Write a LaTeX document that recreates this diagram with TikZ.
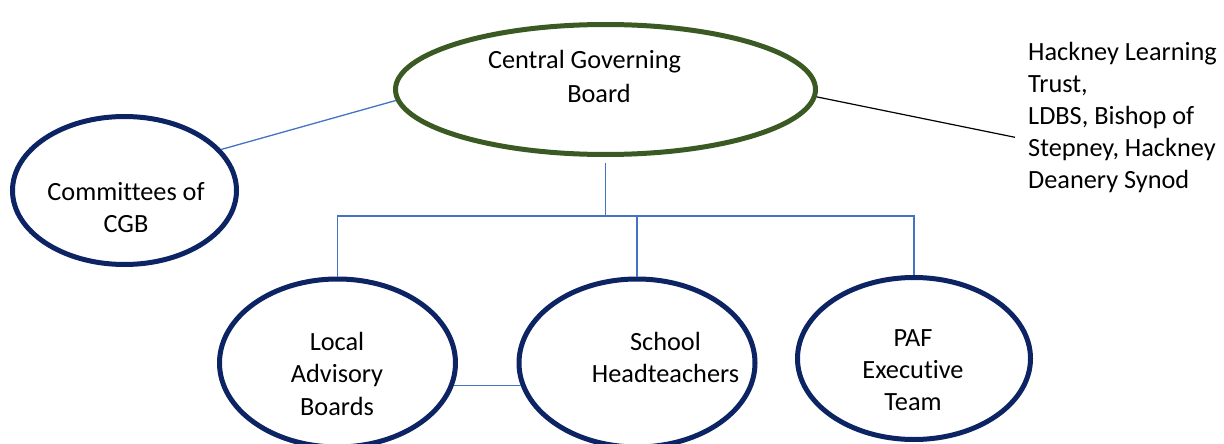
\documentclass[tikz,border=0pt]{standalone}
\usepackage{fontspec}
\setmainfont{Carlito}[Ligatures=NoCommon]
\usetikzlibrary{shapes.geometric}
\definecolor{navyline}{HTML}{0C2364}
\definecolor{greenline}{HTML}{3B5A23}
\definecolor{blueconn}{HTML}{4472C4}
\tikzset{
  oval/.style={ellipse, draw=navyline, line width=5pt, inner sep=0pt, fill=white},
  greenoval/.style={oval, draw=greenline},
  label text/.style={inner sep=0pt, align=center, font=\fontsize{26.3pt}{32.5pt}\selectfont},
  conn/.style={draw=blueconn, line width=1.3pt},
  blackconn/.style={draw=black, line width=1.2pt}
}
\begin{document}
\begin{tikzpicture}[x=1pt,y=-1pt]
\useasboundingbox (0,0) rectangle (1224,444);
% ellipses
\node[greenoval, minimum width=420pt, minimum height=130pt] (cgb) at (605.5,89.5) {};
\node[oval, minimum width=224pt, minimum height=148pt] (comm) at (124.5,190.5) {};
\node[oval, minimum width=236pt, minimum height=168pt] (lab) at (337.5,363) {};
\node[oval, minimum width=236pt, minimum height=168pt] (sh) at (637,363) {};
\node[oval, minimum width=233pt, minimum height=162pt] (paf) at (914,358.5) {};
% texts
\node[label text, font=\fontsize{26.3pt}{34pt}\selectfont] (cgbtext) at (584.5,76.5) {Central Governing\\\hspace*{29pt}Board};
\node[label text] (commtext) at (126,207.5) {Committees of\\CGB};
\node[label text] (labtext) at (337,373.5) {Local\\Advisory\\Boards};
\node[label text] (shtext) at (665.5,357.7) {School\\Headteachers};
\node[label text, font=\fontsize{26.3pt}{32pt}\selectfont] (paftext) at (913,370) {PAF\\Executive\\Team};
\node[label text, align=left, anchor=west, font=\fontsize{26.3pt}{32pt}\selectfont] (ext) at (1028,117.5) {Hackney Learning\\Trust,\\LDBS, Bishop of\\Stepney, Hackney\\Deanery Synod};
% connectors
\coordinate (bus) at (607,216);
\coordinate (extend) at (1015,137.3);
\draw[conn] ([yshift=-6pt]cgb.south) -- (cgb.south |- bus);
\draw[conn] (lab.north) -- (lab.north |- bus) -- (paf.north |- bus) -- (paf.north);
\draw[conn] (sh.north) -- (sh.north |- bus);
\draw[conn] (lab.-11) -- (sh.191);
\draw[conn] (comm.23.6) -- (cgb.183.9);
\draw[blackconn] (cgb.-2) -- (extend);
\end{tikzpicture}
\end{document}
